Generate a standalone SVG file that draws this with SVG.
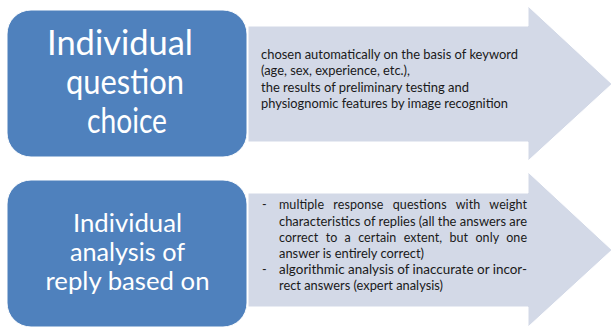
<svg xmlns="http://www.w3.org/2000/svg" width="611" height="328" viewBox="0 0 611 328">
<style>
.box{fill:#4F81BD;stroke:#ffffff;stroke-width:1}
.arrow{fill:#D3D9E7;stroke:#ffffff;stroke-width:1}
.big{font-family:Lato,"Liberation Sans",sans-serif;fill:#ffffff;text-anchor:middle}
.small{font-family:Lato,"Liberation Sans",sans-serif;font-size:12.5px;fill:#1a1a1a}
</style>
<rect width="611" height="328" fill="#ffffff"/>
<g id="connectors">
<path class="arrow" d="M248,26 H528 V6 L612,84 L528,161 V142 H248 Z"/>
<path class="arrow" d="M248,193 H528 V172 L612,250 L528,327 V307 H248 Z"/>
</g>
<g id="node-choice">
<rect class="box" x="7" y="10" width="240" height="147" rx="24"/>
<text class="big" font-size="34" x="120" y="55" textLength="146" lengthAdjust="spacingAndGlyphs">Individual</text>
<text class="big" font-size="34" x="125" y="94" textLength="118" lengthAdjust="spacingAndGlyphs">question</text>
<text class="big" font-size="34" x="127" y="133" textLength="80" lengthAdjust="spacingAndGlyphs">choice</text>
</g>
<g id="node-choice-text">
<text class="small" x="261" y="59" textLength="257" lengthAdjust="spacingAndGlyphs">chosen automatically on the basis of keyword</text>
<text class="small" x="261" y="75" textLength="149" lengthAdjust="spacingAndGlyphs">(age, sex, experience, etc.),</text>
<text class="small" x="261" y="92" textLength="208" lengthAdjust="spacingAndGlyphs">the results of preliminary testing and</text>
<text class="small" x="261" y="108" textLength="247" lengthAdjust="spacingAndGlyphs">physiognomic features by image recognition</text>
</g>
<g id="node-analysis">
<rect class="box" x="7" y="180" width="240" height="147" rx="24"/>
<text class="big" font-size="25.5" x="127.5" y="232" textLength="109" lengthAdjust="spacingAndGlyphs">Individual</text>
<text class="big" font-size="25.5" x="127.5" y="261" textLength="115" lengthAdjust="spacingAndGlyphs">analysis of</text>
<text class="big" font-size="25.5" x="127.5" y="290" textLength="164" lengthAdjust="spacingAndGlyphs">reply based on</text>
</g>
<g id="node-analysis-text">
<text class="small" x="262" y="209">-</text>
<text class="small" x="279" y="209" textLength="248" lengthAdjust="spacing" word-spacing="6">multiple response questions with weight</text>
<text class="small" x="279" y="226" textLength="248" lengthAdjust="spacingAndGlyphs">characteristics of replies (all the answers are</text>
<text class="small" x="279" y="242" textLength="248" lengthAdjust="spacing" word-spacing="4">correct to a certain extent, but only one</text>
<text class="small" x="279" y="258" textLength="145" lengthAdjust="spacingAndGlyphs">answer is entirely correct)</text>
<text class="small" x="262" y="274">-</text>
<text class="small" x="279" y="274" textLength="248" lengthAdjust="spacingAndGlyphs">algorithmic analysis of inaccurate or incor-</text>
<text class="small" x="279" y="290" textLength="164" lengthAdjust="spacingAndGlyphs">rect answers (expert analysis)</text>
</g>
</svg>
